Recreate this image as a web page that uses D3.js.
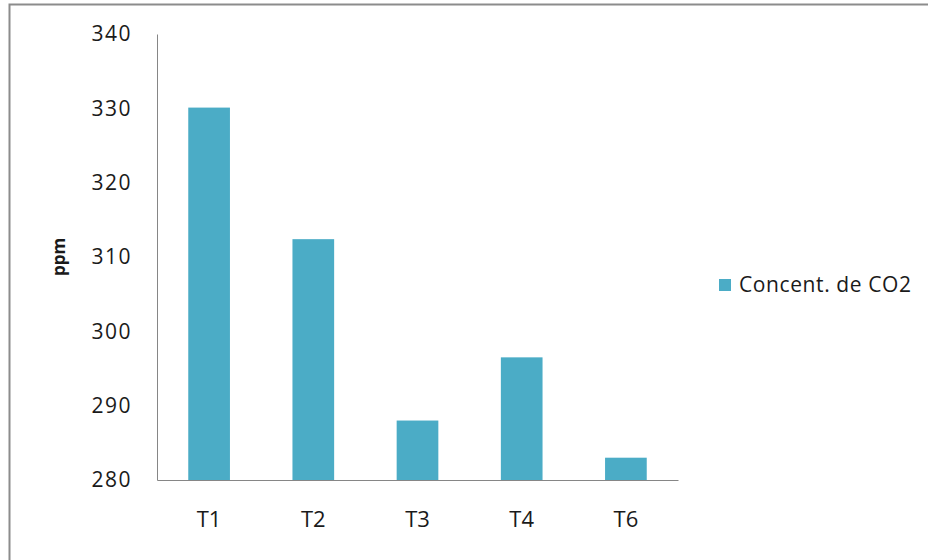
<!DOCTYPE html>
<html>
<head>
<meta charset="utf-8">
<script src="https://cdn.jsdelivr.net/npm/d3@7"></script>
<style>
  html, body { margin: 0; padding: 0; background: #fff; }
  svg { display: block; font-family: "Open Sans", "Noto Sans", sans-serif; }
</style>
</head>
<body>
<svg id="chart" width="928" height="560"></svg>
<script>
// CO2 concentration per treatment (ppm)
const categories = ["T1", "T2", "T3", "T4", "T6"];
const co2Values = [330.1, 312.4, 288.0, 296.5, 283.0];
const yTicks = [280, 290, 300, 310, 320, 330, 340];
const seriesName = "Concent. de CO2";
const yTitle = "ppm";

const svg = d3.select("#chart");
const W = 928, H = 560;
const plot = { left: 157, right: 678, top: 34, bottom: 480 };
const barColor = "#4BACC6";
const axisColor = "#868686";
const textColor = "#1a1a1a";

// chart frame
svg.append("rect")
  .attr("x", 9.5).attr("y", 4.5)
  .attr("width", W + 20).attr("height", H + 20)
  .attr("fill", "none")
  .attr("stroke", "#8c8c8c")
  .attr("stroke-width", 2);

const x = d3.scaleBand()
  .domain(categories)
  .range([plot.left, plot.right])
  .paddingInner(0.6)
  .paddingOuter(0.3);

const y = d3.scaleLinear()
  .domain([280, 340])
  .range([plot.bottom, plot.top]);

// bars
svg.append("g")
  .selectAll("rect")
  .data(categories.map((c, i) => ({ c, v: co2Values[i] })))
  .join("rect")
  .attr("x", d => x(d.c))
  .attr("width", x.bandwidth())
  .attr("y", d => y(d.v))
  .attr("height", d => y(280) - y(d.v))
  .attr("fill", barColor);

// y axis
const yAxis = svg.append("g")
  .attr("transform", `translate(${plot.left},0)`)
  .call(d3.axisLeft(y).tickValues(yTicks).tickSize(0).tickPadding(25).tickFormat(d3.format("d")));
yAxis.select(".domain").attr("stroke", axisColor).attr("stroke-width", 1);
yAxis.selectAll("text")
  .attr("fill", textColor)
  .attr("font-size", 21)
  .attr("letter-spacing", 1.5)
  .attr("font-family", "Open Sans, sans-serif");

// x axis
const xAxis = svg.append("g")
  .attr("transform", `translate(0,${plot.bottom})`)
  .call(d3.axisBottom(x).tickSize(0).tickPadding(31));
xAxis.select(".domain").attr("stroke", axisColor).attr("stroke-width", 1);
xAxis.selectAll("text")
  .attr("fill", textColor)
  .attr("font-size", 22)
  .attr("font-family", "Open Sans, sans-serif");

// y axis title
svg.append("text")
  .attr("transform", `translate(65,${(plot.top + plot.bottom) / 2}) rotate(-90)`)
  .attr("text-anchor", "middle")
  .attr("font-size", 17)
  .attr("font-weight", "bold")
  .attr("fill", textColor)
  .text(yTitle);

// legend
const legend = svg.append("g").attr("transform", "translate(719,279)");
legend.append("rect")
  .attr("width", 12).attr("height", 12)
  .attr("fill", barColor);
legend.append("text")
  .attr("x", 20).attr("y", 6)
  .attr("dy", "0.35em")
  .attr("font-size", 21)
  .attr("letter-spacing", 0.6)
  .attr("fill", textColor)
  .text(seriesName);
</script>
</body>
</html>
